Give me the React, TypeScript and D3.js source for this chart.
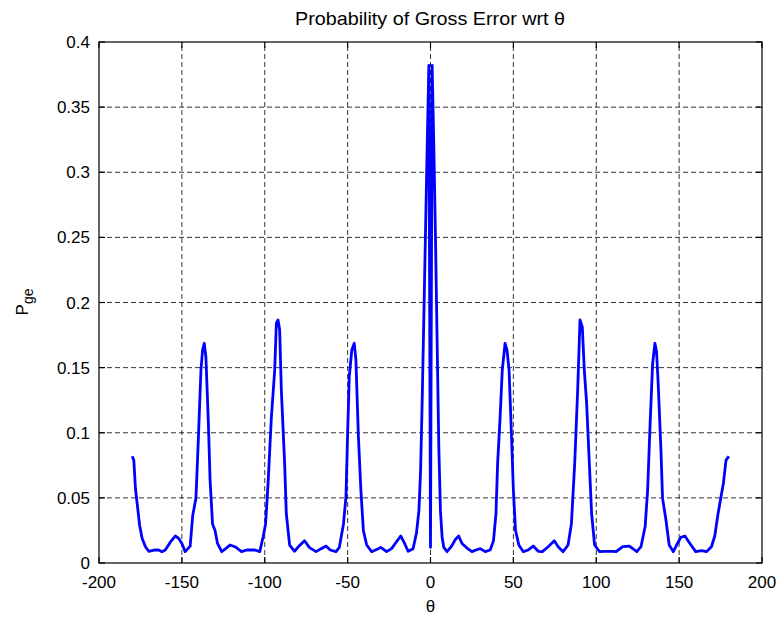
import * as d3 from "d3";
import React, { useEffect, useRef } from "react";

// theta (deg) and probability of gross error
const theta = [
  -180, -179, -178, -177, -175.5, -174, -172, -170, -168, -166, -164, -162, -160, -157, -154, -152, -150, -148, -145,
  -143.5, -141.5, -140, -138.5, -137.5, -136.5, -135.5, -134, -133, -131.5, -130, -128.5, -126, -123.5, -121, -118,
  -114, -111, -106, -103, -101, -99.5, -98, -96, -94, -93, -92, -91, -90, -88, -87, -85, -82, -79, -76, -73, -69, -66,
  -63, -60.5, -57, -55, -52.5, -51, -50, -49, -47.5, -46, -45, -43.5, -42, -40.5, -38.5, -35.5, -31.5, -30, -26.5,
  -23.5, -20.5, -18, -16, -13.5, -10.5, -8.5, -7, -6, -5, -4, -3, -2, -1, 0, 1, 2, 3, 4, 5, 6, 7, 8, 10, 12.5, 15, 17,
  19, 22, 25, 27.5, 30, 33, 36, 38, 39.5, 40.5, 42, 43.3, 45, 46.2, 47.4, 48.6, 50, 51.3, 53.3, 56, 59, 62, 65, 67.5,
  71, 74.7, 77, 80, 83, 85, 87, 88.8, 90.2, 91.6, 92.8, 94.2, 95.6, 97.2, 99, 102, 105, 110, 112, 116, 120, 124.5, 127,
  129.5, 131, 132.5, 134, 135.4, 136.4, 137.4, 139, 140, 142, 144, 146.5, 149, 151, 153.5, 156.5, 160, 163.5, 166.5,
  169.5, 171.5, 173.5, 175.3, 176.7, 178.3, 180,
];
const pge = [
  0.082, 0.079, 0.057, 0.046, 0.029, 0.019, 0.0125, 0.009, 0.0095, 0.01, 0.01, 0.0087, 0.01, 0.016, 0.0207, 0.019, 0.015,
  0.0087, 0.013, 0.036, 0.05, 0.097, 0.148, 0.1635, 0.1687, 0.158, 0.107, 0.064, 0.03, 0.025, 0.015, 0.0087, 0.011,
  0.0138, 0.0125, 0.0087, 0.01, 0.01, 0.0087, 0.02, 0.03, 0.061, 0.112, 0.148, 0.184, 0.1866, 0.179, 0.133, 0.0765, 0.038,
  0.0138, 0.009, 0.0135, 0.0171, 0.0118, 0.0087, 0.011, 0.013, 0.01, 0.0087, 0.012, 0.03, 0.051, 0.0996, 0.143, 0.1635,
  0.1687, 0.156, 0.097, 0.056, 0.025, 0.0138, 0.0087, 0.011, 0.012, 0.0087, 0.011, 0.0163, 0.0207, 0.016, 0.009, 0.011,
  0.0228, 0.04, 0.07, 0.125, 0.19, 0.255, 0.32, 0.382, 0.012, 0.382, 0.32, 0.25, 0.17, 0.09, 0.04, 0.02, 0.012, 0.0087,
  0.0125, 0.018, 0.0207, 0.015, 0.0115, 0.0087, 0.01, 0.011, 0.0087, 0.01, 0.017, 0.038, 0.0765, 0.112, 0.148, 0.1687,
  0.163, 0.148, 0.107, 0.056, 0.025, 0.0138, 0.0087, 0.01, 0.013, 0.009, 0.0087, 0.0125, 0.0171, 0.0125, 0.0087, 0.0138,
  0.03, 0.0765, 0.133, 0.1866, 0.181, 0.148, 0.1226, 0.083, 0.038, 0.0138, 0.0087, 0.009, 0.009, 0.0087, 0.0125, 0.013,
  0.0087, 0.0125, 0.028, 0.056, 0.107, 0.153, 0.1687, 0.162, 0.137, 0.088, 0.0496, 0.0336, 0.0138, 0.0087, 0.015,
  0.0197, 0.0207, 0.015, 0.0087, 0.0095, 0.0087, 0.0125, 0.0207, 0.038, 0.051, 0.061, 0.079, 0.082,
];

const xTicks = [-200, -150, -100, -50, 0, 50, 100, 150, 200];
const yTicks = [0, 0.05, 0.1, 0.15, 0.2, 0.25, 0.3, 0.35, 0.4];

const title = "Probability of Gross Error wrt θ";
const xLabel = "θ";

export default function App() {
  const svgRef = useRef<SVGSVGElement>(null);
  const width = 783;
  const height = 620;
  const margin = { top: 42, right: 21, bottom: 57, left: 99 };
  const font = "'Liberation Sans', Arial, sans-serif";

  useEffect(() => {
    const svg = d3.select(svgRef.current);
    svg.selectAll("*").remove();

    const x = d3.scaleLinear().domain([-200, 200]).range([margin.left, width - margin.right]);
    const y = d3.scaleLinear().domain([0, 0.4]).range([height - margin.bottom, margin.top]);
    const x0 = margin.left, x1 = width - margin.right;
    const y0 = height - margin.bottom, y1 = margin.top;

    svg.append("rect").attr("width", width).attr("height", height).attr("fill", "#fff");

    // grid
    const grid = svg.append("g").attr("stroke", "#000").attr("stroke-width", 0.8).attr("stroke-dasharray", "5,3");
    xTicks.slice(1, -1).forEach((t) => {
      grid.append("line").attr("x1", x(t)).attr("x2", x(t)).attr("y1", y0).attr("y2", y1);
    });
    yTicks.slice(1, -1).forEach((t) => {
      grid.append("line").attr("x1", x0).attr("x2", x1).attr("y1", y(t)).attr("y2", y(t));
    });

    // data line
    const pts = theta.map((t, i) => [t, pge[i]] as [number, number]);
    svg
      .append("path")
      .datum(pts)
      .attr("fill", "none")
      .attr("stroke", "#0000ff")
      .attr("stroke-width", 2.8)
      .attr("stroke-linejoin", "round")
      .attr("d", d3.line<[number, number]>().x((d) => x(d[0])).y((d) => y(d[1])));

    // box and ticks
    const ax = svg.append("g").attr("stroke", "#000").attr("stroke-width", 1.2);
    ax.append("rect").attr("x", x0).attr("y", y1).attr("width", x1 - x0).attr("height", y0 - y1).attr("fill", "none");
    const tl = 6;
    xTicks.forEach((t) => {
      ax.append("line").attr("x1", x(t)).attr("x2", x(t)).attr("y1", y0).attr("y2", y0 - tl);
      ax.append("line").attr("x1", x(t)).attr("x2", x(t)).attr("y1", y1).attr("y2", y1 + tl);
    });
    yTicks.forEach((t) => {
      ax.append("line").attr("x1", x0).attr("x2", x0 + tl).attr("y1", y(t)).attr("y2", y(t));
      ax.append("line").attr("x1", x1).attr("x2", x1 - tl).attr("y1", y(t)).attr("y2", y(t));
    });

    // tick labels
    svg
      .append("g")
      .selectAll("text")
      .data(xTicks)
      .join("text")
      .attr("x", (d) => x(d))
      .attr("y", y0 + 25)
      .attr("text-anchor", "middle")
      .attr("font-family", font)
      .attr("font-size", 17)
      .text((d) => String(d));
    svg
      .append("g")
      .selectAll("text")
      .data(yTicks)
      .join("text")
      .attr("x", x0 - 9)
      .attr("y", (d) => y(d) + 6)
      .attr("text-anchor", "end")
      .attr("font-family", font)
      .attr("font-size", 17)
      .text((d) => String(d));

    // title
    svg
      .append("text")
      .attr("x", 430)
      .attr("y", 25)
      .attr("text-anchor", "middle")
      .attr("font-family", font)
      .attr("font-size", 18.5)
      .attr("textLength", 270)
      .attr("lengthAdjust", "spacingAndGlyphs")
      .text(title);

    // x label
    svg
      .append("text")
      .attr("x", x(0))
      .attr("y", 612)
      .attr("text-anchor", "middle")
      .attr("font-family", font)
      .attr("font-size", 17)
      .text(xLabel);

    // y label P_ge
    const yl = svg
      .append("text")
      .attr("transform", "translate(28," + 302 + ") rotate(-90)")
      .attr("text-anchor", "middle")
      .attr("font-family", font)
      .attr("font-size", 17);
    yl.append("tspan").text("P");
    yl.append("tspan").attr("dy", 5).attr("font-size", 14).text("ge");
  }, []);

  return (
    <svg
      ref={svgRef}
      width={width}
      height={height}
      style={{ position: "absolute", left: 0, top: 0, display: "block" }}
    ></svg>
  );
}
